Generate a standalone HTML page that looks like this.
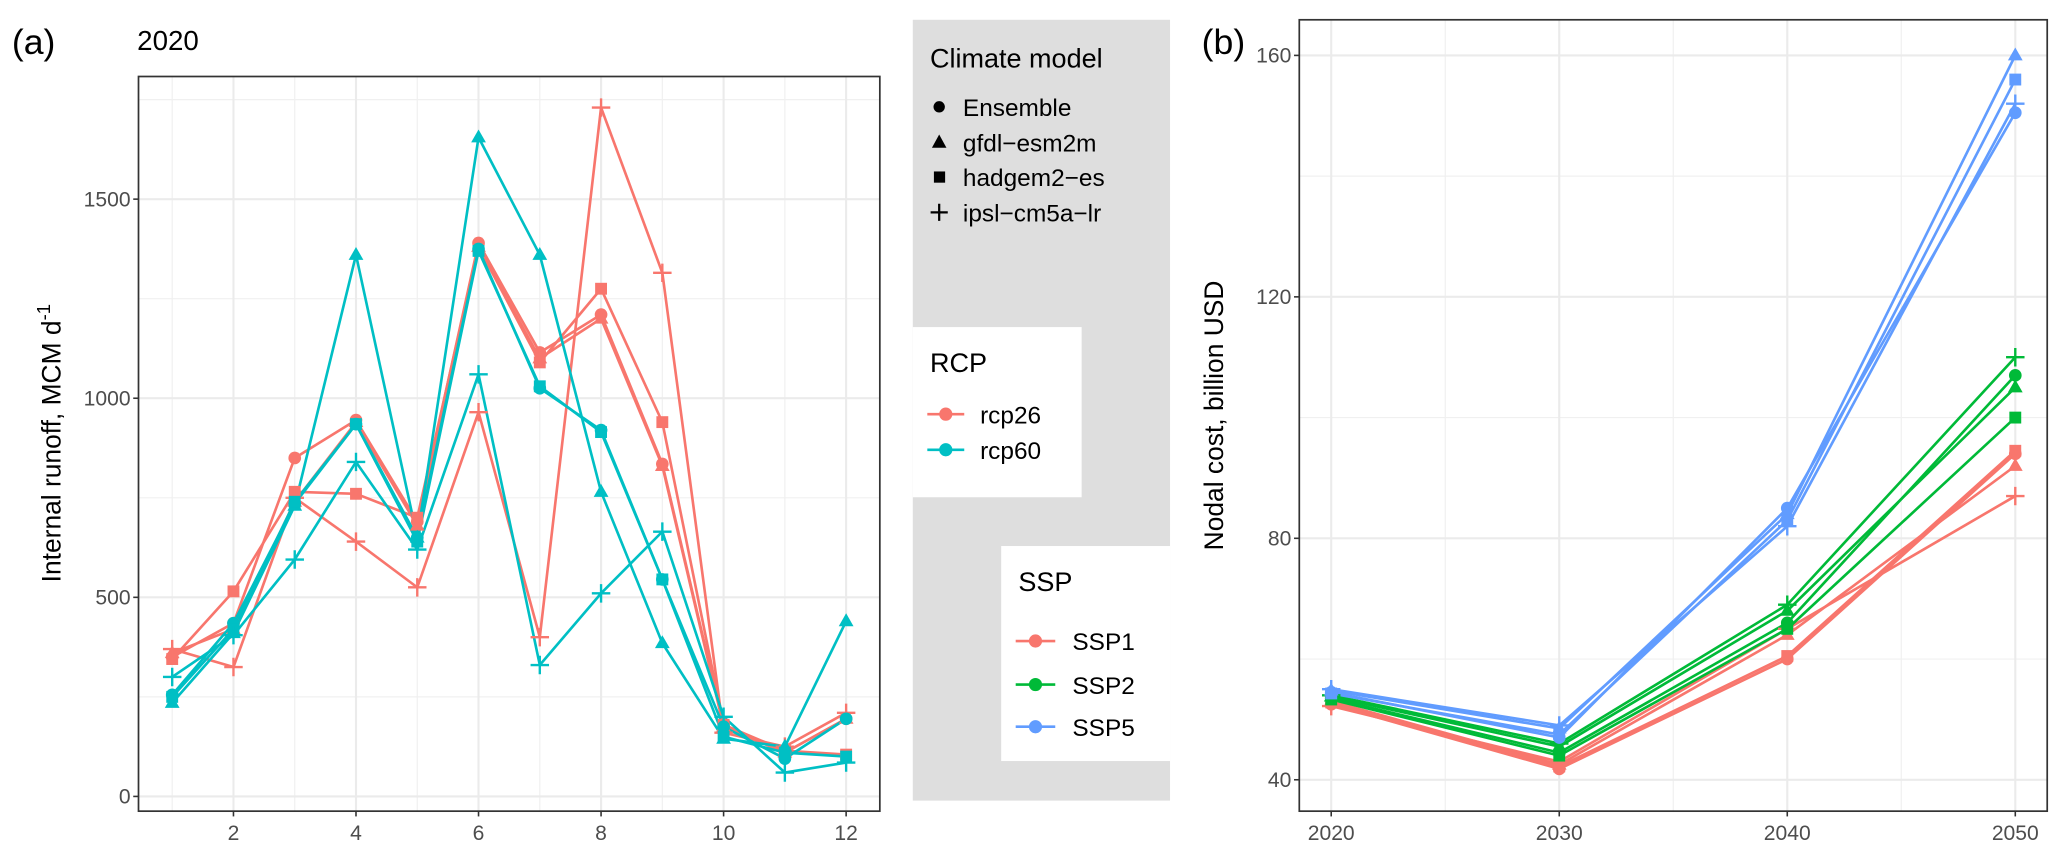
<!DOCTYPE html>
<html><head><meta charset="utf-8"><style>
html,body{margin:0;padding:0;background:#fff;}
svg{display:block;font-family:"Liberation Sans",Arial,sans-serif;}
</style></head><body>
<svg id="fig" width="2067" height="856" viewBox="0 0 1567 649" preserveAspectRatio="none">
<rect x="0" y="0" width="1567" height="649" fill="#fff"/>
<g id="pa"></g>
<g id="pb"></g>
<g id="legend">
  <rect x="692" y="15" width="195" height="592" fill="#dedede"/>
  <text x="705" y="51" font-size="20.5" fill="#000">Climate model</text>
  <circle cx="712" cy="81" r="4.3" fill="#000"/>
  <text x="730" y="88" font-size="18.5">Ensemble</text>
  <path d="M712,102 L717.5,112 L706.5,112 Z" fill="#000"/>
  <text x="730" y="115" font-size="18.5">gfdl−esm2m</text>
  <rect x="708" y="130" width="8.5" height="8.5" fill="#000"/>
  <text x="730" y="141" font-size="18.5">hadgem2−es</text>
  <path d="M705.5,161 H718.5 M712,154.5 V167.5" stroke="#000" stroke-width="1.7"/>
  <text x="730" y="168" font-size="18.5">ipsl−cm5a−lr</text>

  <rect x="692" y="248" width="128" height="129" fill="#fff"/>
  <text x="705" y="282" font-size="20.5">RCP</text>
  <line x1="703" y1="314" x2="731" y2="314" stroke="#F8766D" stroke-width="2"/>
  <circle cx="717" cy="314" r="5" fill="#F8766D"/>
  <text x="743" y="321" font-size="18.5">rcp26</text>
  <line x1="703" y1="341" x2="731" y2="341" stroke="#00BFC4" stroke-width="2"/>
  <circle cx="717" cy="341" r="5" fill="#00BFC4"/>
  <text x="743" y="348" font-size="18.5">rcp60</text>

  <rect x="759" y="414" width="128" height="163" fill="#fff"/>
  <text x="772" y="448" font-size="20.5">SSP</text>
  <line x1="770" y1="486" x2="800" y2="486" stroke="#F8766D" stroke-width="2"/>
  <circle cx="785" cy="486" r="5" fill="#F8766D"/>
  <text x="813" y="493" font-size="18.5">SSP1</text>
  <line x1="770" y1="519" x2="800" y2="519" stroke="#00BA38" stroke-width="2"/>
  <circle cx="785" cy="519" r="5" fill="#00BA38"/>
  <text x="813" y="526" font-size="18.5">SSP2</text>
  <line x1="770" y1="551" x2="800" y2="551" stroke="#619CFF" stroke-width="2"/>
  <circle cx="785" cy="551" r="5" fill="#619CFF"/>
  <text x="813" y="558" font-size="18.5">SSP5</text>
</g>
</svg>
<script>
// ---- Panel (a) data ----
const months = [1,2,3,4,5,6,7,8,9,10,11,12];
const aTicksY = [0,500,1000,1500];
const aTicksX = [2,4,6,8,10,12];
const rcp26_ensemble = [350,435,850,945,690,1390,1115,1210,835,180,110,195];
const rcp26_gfdl     = [360,420,740,940,680,1380,1100,1200,830,175,110,195];
const rcp26_hadgem   = [345,515,765,760,700,1380,1090,1275,940,180,115,105];
const rcp26_ipsl     = [370,325,750,640,525,965,400,1730,1315,160,125,210];
const rcp60_ensemble = [255,435,735,935,650,1375,1025,920,545,175,95,195];
const rcp60_gfdl     = [235,410,730,1360,650,1655,1360,765,385,145,125,440];
const rcp60_hadgem   = [250,420,740,935,640,1370,1030,915,545,150,110,100];
const rcp60_ipsl     = [300,405,595,840,620,1060,330,510,665,200,60,85];

// ---- Panel (b) data ----
const years = [2020,2030,2040,2050];
const bTicksY = [40,80,120,160];
const bTicksX = [2020,2030,2040,2050];
const ssp1_ensemble = [52.5,41.8,60,94];
const ssp1_gfdl     = [53,42.5,64,92];
const ssp1_hadgem   = [52.8,42.2,60.5,94.5];
const ssp1_ipsl     = [52.2,43,65,87];
const ssp2_ensemble = [53.5,44.5,66,107];
const ssp2_gfdl     = [53.8,45.5,68,105];
const ssp2_hadgem   = [53.3,44,65,100];
const ssp2_ipsl     = [54,46,69,110];
const ssp5_ensemble = [54.5,47,85,150.5];
const ssp5_gfdl     = [54.8,48.5,84,160];
const ssp5_hadgem   = [54.3,47.5,83,156];
const ssp5_ipsl     = [55,49,82,152];

const NS='http://www.w3.org/2000/svg';
function mk(tag, attrs, parent){const e=document.createElementNS(NS,tag);for(const k in attrs)e.setAttribute(k,attrs[k]);parent.appendChild(e);return e;}

function marker(g, shape, x, y, col){
  let e;
  if(shape==='circle'){e=mk('circle',{cx:x,cy:y,r:4.8,fill:col},g);}
  else if(shape==='triangle'){e=mk('path',{d:`M${x},${y-6} L${x+5.6},${y+3.8} L${x-5.6},${y+3.8} Z`,fill:col},g);}
  else if(shape==='square'){e=mk('rect',{x:x-4.5,y:y-4.5,width:9,height:9,fill:col},g);}
  else {e=mk('path',{d:`M${x-7},${y} H${x+7} M${x},${y-7} V${y+7}`,stroke:col,'stroke-width':1.8,fill:'none'},g);}
  
  
}

function panel(g, o){
  const sx=v=>o.x0+(v-o.xmin)/(o.xmax-o.xmin)*(o.x1-o.x0);
  const sy=v=>o.y1-(v-o.ymin)/(o.ymax-o.ymin)*(o.y1-o.y0);
  mk('rect',{x:o.x0,y:o.y0,width:o.x1-o.x0,height:o.y1-o.y0,fill:'#fff'},g);
  o.minorX.forEach(v=>mk('line',{x1:sx(v),x2:sx(v),y1:o.y0,y2:o.y1,stroke:'#f0f0f0','stroke-width':0.9},g));
  o.minorY.forEach(v=>mk('line',{y1:sy(v),y2:sy(v),x1:o.x0,x2:o.x1,stroke:'#f0f0f0','stroke-width':0.9},g));
  o.ticksX.forEach(v=>{const l=mk('line',{x1:sx(v),x2:sx(v),y1:o.y0,y2:o.y1,stroke:'#ebebeb','stroke-width':1.6},g);});
  o.ticksY.forEach(v=>{const l=mk('line',{y1:sy(v),y2:sy(v),x1:o.x0,x2:o.x1,stroke:'#ebebeb','stroke-width':1.6},g);});
  o.series.forEach(s=>{
    const pts=o.xs.map((x,i)=>sx(x)+','+sy(s.v[i])).join(' ');
    const pl=mk('polyline',{points:pts,fill:'none',stroke:s.c,'stroke-width':2,'stroke-linejoin':'round'},g);
    
    
  });
  o.series.forEach(s=>o.xs.forEach((x,i)=>marker(g,s.m,sx(x),sy(s.v[i]),s.c)));
  mk('rect',{x:o.x0,y:o.y0,width:o.x1-o.x0,height:o.y1-o.y0,fill:'none',stroke:'#333','stroke-width':1.3},g);
  o.ticksX.forEach(v=>{
    mk('line',{x1:sx(v),x2:sx(v),y1:o.y1,y2:o.y1+4,stroke:'#333','stroke-width':1.2},g);
    const t=mk('text',{x:sx(v),y:o.y1+22,'font-size':16,fill:'#4d4d4d','text-anchor':'middle'},g);
    t.textContent=v;
    
    
  });
  o.ticksY.forEach(v=>{
    mk('line',{x1:o.x0-4,x2:o.x0,y1:sy(v),y2:sy(v),stroke:'#333','stroke-width':1.2},g);
    const t=mk('text',{x:o.x0-6,y:sy(v)+5.5,'font-size':16,fill:'#4d4d4d','text-anchor':'end'},g);
    t.textContent=v;
    
    
  });
}

const RED='#F8766D', TEAL='#00BFC4', GREEN='#00BA38', BLUE='#619CFF';
const ga=document.getElementById('pa');
panel(ga,{x0:105,x1:667,y0:58,y1:615,xmin:0.45,xmax:12.55,ymin:-37,ymax:1808,
  xs:months,ticksX:aTicksX,ticksY:aTicksY,minorX:[1,3,5,7,9,11],minorY:[250,750,1250,1750],
  series:[
    {name:'line-rcp26-ensemble',v:rcp26_ensemble,c:RED,m:'circle'},
    {name:'line-rcp26-gfdl',v:rcp26_gfdl,c:RED,m:'triangle'},
    {name:'line-rcp26-hadgem',v:rcp26_hadgem,c:RED,m:'square'},
    {name:'line-rcp26-ipsl',v:rcp26_ipsl,c:RED,m:'plus'},
    {name:'line-rcp60-ensemble',v:rcp60_ensemble,c:TEAL,m:'circle'},
    {name:'line-rcp60-gfdl',v:rcp60_gfdl,c:TEAL,m:'triangle'},
    {name:'line-rcp60-hadgem',v:rcp60_hadgem,c:TEAL,m:'square'},
    {name:'line-rcp60-ipsl',v:rcp60_ipsl,c:TEAL,m:'plus'}
  ]});
const gb=document.getElementById('pb');
panel(gb,{x0:985,x1:1552,y0:15,y1:615,xmin:2018.6,xmax:2051.4,ymin:34.8,ymax:165.9,
  xs:years,ticksX:bTicksX,ticksY:bTicksY,minorX:[2025,2035,2045],minorY:[60,100,140],
  series:[
    {name:'line-ssp1-ensemble',v:ssp1_ensemble,c:RED,m:'circle'},
    {name:'line-ssp1-gfdl',v:ssp1_gfdl,c:RED,m:'triangle'},
    {name:'line-ssp1-hadgem',v:ssp1_hadgem,c:RED,m:'square'},
    {name:'line-ssp1-ipsl',v:ssp1_ipsl,c:RED,m:'plus'},
    {name:'line-ssp2-ensemble',v:ssp2_ensemble,c:GREEN,m:'circle'},
    {name:'line-ssp2-gfdl',v:ssp2_gfdl,c:GREEN,m:'triangle'},
    {name:'line-ssp2-hadgem',v:ssp2_hadgem,c:GREEN,m:'square'},
    {name:'line-ssp2-ipsl',v:ssp2_ipsl,c:GREEN,m:'plus'},
    {name:'line-ssp5-ensemble',v:ssp5_ensemble,c:BLUE,m:'circle'},
    {name:'line-ssp5-gfdl',v:ssp5_gfdl,c:BLUE,m:'triangle'},
    {name:'line-ssp5-hadgem',v:ssp5_hadgem,c:BLUE,m:'square'},
    {name:'line-ssp5-ipsl',v:ssp5_ipsl,c:BLUE,m:'plus'}
  ]});

const svg=document.getElementById('fig');
function txt(attrs, s, name, parent){const t=mk('text',attrs,parent||svg);t.textContent=s;return t;}
txt({x:9,y:41,'font-size':27},'(a)','panel-a-label');
txt({x:104,y:38,'font-size':21},'2020','panel-a-title');
txt({x:911,y:41,'font-size':27},'(b)','panel-b-label');
const ya=mk('text',{x:0,y:0,'font-size':20,'text-anchor':'middle',transform:'translate(46,336) rotate(-90)'},svg);
ya.innerHTML='Internal runoff, MCM d<tspan dy="-8" font-size="14">-1</tspan>';


txt({x:0,y:0,'font-size':20,'text-anchor':'middle',transform:'translate(927,315) rotate(-90)'},'Nodal cost, billion USD','y-axis-title-b');
</script>
</body></html>
